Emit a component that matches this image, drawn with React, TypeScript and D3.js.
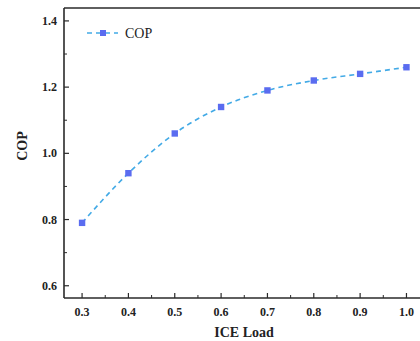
import * as d3 from "d3";

const loads = [0.3, 0.4, 0.5, 0.6, 0.7, 0.8, 0.9, 1.0];
const cop = [0.79, 0.94, 1.06, 1.14, 1.19, 1.22, 1.24, 1.26];
const xTicks = [0.3, 0.4, 0.5, 0.6, 0.7, 0.8, 0.9, 1.0];
const yTicks = [0.6, 0.8, 1.0, 1.2, 1.4];

const lineColor = "#43aae6";
const markerColor = "#5a6cf0";
const font = "'Liberation Serif', 'Times New Roman', serif";

export default function App() {
  const width = 420;
  const height = 341;
  const margin = { top: 8, right: -5, bottom: 43, left: 64 };
  const x = d3.scaleLinear([0.261, 1.04], [margin.left, width - margin.right]);
  const y = d3.scaleLinear([0.563, 1.439], [height - margin.bottom, margin.top]);
  const pts = loads.map((l, i) => [x(l), y(cop[i])] as [number, number]);
  const path = d3.line().curve(d3.curveMonotoneX)(pts) ?? "";
  const minorX = d3.range(0.35, 1.0, 0.1);
  const minorY = d3.range(0.7, 1.4, 0.2);
  const x0 = margin.left;
  const yb = height - margin.bottom;

  return (
    <svg
      width={width}
      height={height}
      style={{ position: "absolute", left: 0, top: 0, background: "#fff" }}
      fontFamily={font}
    >
      <rect x={0} y={0} width={width} height={height} fill="#fff" />
      {/* frame */}
      <line x1={x0} x2={width} y1={margin.top} y2={margin.top} stroke="#2a2a2a" strokeWidth={1.6} />
      <line x1={x0} x2={x0} y1={margin.top} y2={yb} stroke="#2a2a2a" strokeWidth={1.6} />
      <line x1={x0} x2={width} y1={yb} y2={yb} stroke="#2a2a2a" strokeWidth={1.6} />

      {yTicks.map((t) => (
        <g key={`y${t}`}>
          <line x1={x0} x2={x0 + 5} y1={y(t)} y2={y(t)} stroke="#2a2a2a" strokeWidth={1.2} />
          <text x={x0 - 7} y={y(t) + 4} textAnchor="end" fontSize={12} fontWeight="bold" fill="#222">
            {t.toFixed(1)}
          </text>
        </g>
      ))}
      {minorY.map((t) => (
        <line key={`my${t}`} x1={x0} x2={x0 + 3} y1={y(t)} y2={y(t)} stroke="#2a2a2a" strokeWidth={1} />
      ))}
      {xTicks.map((t) => (
        <g key={`x${t}`}>
          <line x1={x(t)} x2={x(t)} y1={yb} y2={yb - 5} stroke="#2a2a2a" strokeWidth={1.2} />
          <text x={x(t)} y={yb + 18} textAnchor="middle" fontSize={12} fontWeight="bold" fill="#222">
            {t.toFixed(1)}
          </text>
        </g>
      ))}
      {minorX.map((t) => (
        <line key={`mx${t}`} x1={x(t)} x2={x(t)} y1={yb} y2={yb - 3} stroke="#2a2a2a" strokeWidth={1} />
      ))}

      <text x={244} y={337} textAnchor="middle" fontSize={14} fontWeight="bold" fill="#222">
        ICE Load
      </text>
      <text
        transform={`translate(27, 146) rotate(-90)`}
        textAnchor="middle"
        fontSize={14}
        fontWeight="bold"
        fill="#222"
      >
        COP
      </text>

      <path d={path} fill="none" stroke={lineColor} strokeWidth={1.6} strokeDasharray="5,4" />
      {pts.map(([px, py], i) => (
        <rect key={i} x={px - 3.2} y={py - 3.2} width={6.4} height={6.4} fill={markerColor} />
      ))}

      {/* legend */}
      <line x1={87} x2={118} y1={33} y2={33} stroke={lineColor} strokeWidth={1.6} strokeDasharray="5,4" />
      <rect x={100} y={30} width={6} height={6} fill={markerColor} />
      <text x={125} y={38} fontSize={14} fill="#222">
        COP
      </text>
    </svg>
  );
}
